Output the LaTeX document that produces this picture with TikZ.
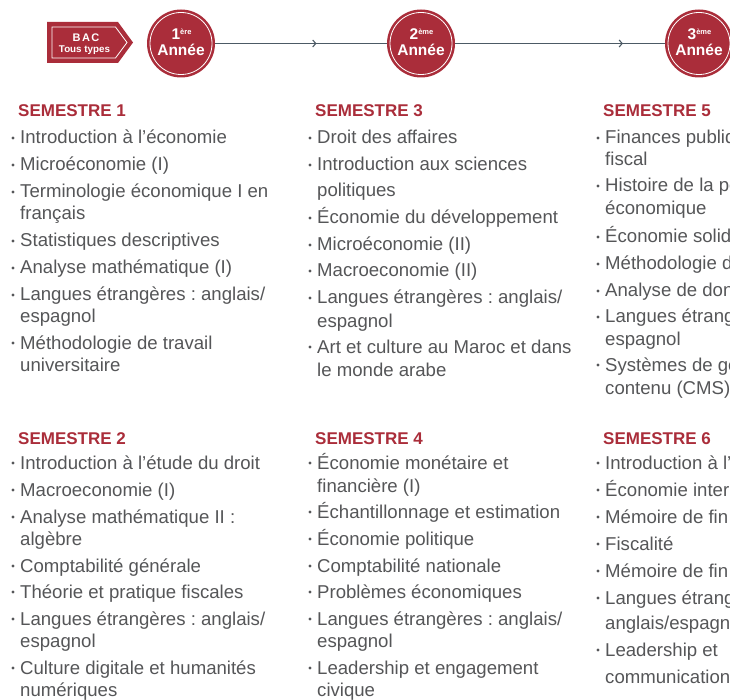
\documentclass[tikz,border=0pt]{standalone}
\usepackage{fontspec}
\setmainfont{Liberation Sans}
\usetikzlibrary{arrows.meta,decorations.markings,calc}
\definecolor{brandred}{HTML}{AA2D3A}
\definecolor{txtgray}{HTML}{555658}
\definecolor{linegray}{HTML}{4C5A65}
\frenchspacing
\tikzset{
  itemtxt/.style={anchor=base west, inner sep=0pt, text=txtgray, font=\fontsize{18.6}{18.6}\selectfont},
  semhead/.style={anchor=base west, inner sep=0pt, text=brandred, font=\bfseries\fontsize{17}{17}\selectfont},
  yearcircle/.style={circle, fill=brandred, minimum size=68pt, inner sep=0pt},
  yeartxt/.style={anchor=base, inner sep=0pt, text=white, font=\bfseries\fontsize{15.5}{15.5}\selectfont},
  timeline/.style={draw=linegray, line width=1.3pt},
  chev/.style={postaction={decorate, decoration={markings, mark=at position #1 with {\arrow[linegray, line width=1.1pt]{Straight Barb[length=3pt,width=7pt]}}}}}
}
\newcommand\itm[4]{\node[itemtxt] (#1) at (#2,#3) {#4};
  \fill[txtgray] ($(#1.base west)+(-7,-6)$) circle (1.6pt);}
\newcommand\cnt[4]{\node[itemtxt] (#1) at (#2,#3) {#4};}
\begin{document}
\begin{tikzpicture}[x=1pt,y=-1pt]
\useasboundingbox (0,0) rectangle (730,700);
\clip (0,0) rectangle (730,700);
\fill[white] (0,0) rectangle (730,700);

% BAC badge
\fill[brandred] (47,22) -- (118,22) -- (133,42.5) -- (118,63) -- (47,63) -- cycle;
\draw[white, line width=0.8pt] (52,27) -- (115.5,27) -- (127,42.5) -- (115.5,58) -- (52,58) -- cycle;
\node[anchor=base, inner sep=0pt, text=white, font=\bfseries\fontsize{11}{11}\selectfont\addfontfeature{LetterSpace=14}] (bac) at (86,41.7) {BAC};
\node[anchor=base, inner sep=0pt, text=white, font=\bfseries\fontsize{9.8}{9.8}\selectfont] (tous) at (84.5,52.7) {Tous types};

% year circles
\node[yearcircle] (y1) at (181,43.5) {};
\node[yearcircle] (y2) at (421,43.5) {};
\node[yearcircle] (y3) at (699,43.5) {};
\foreach \c in {y1,y2,y3} \draw[white, line width=0.8pt] (\c.center) circle (31pt);
\node[yeartxt] (t1a) at (181.5,39.5) {1\raisebox{4.5pt}{\fontsize{7.5}{7.5}\selectfont ère}};
\node[yeartxt] (t1b) at (181,55.5) {Année};
\node[yeartxt] (t2a) at (421.5,39.5) {2\raisebox{4.5pt}{\fontsize{7.5}{7.5}\selectfont ème}};
\node[yeartxt] (t2b) at (421,55.5) {Année};
\node[yeartxt] (t3a) at (699.5,39.5) {3\raisebox{4.5pt}{\fontsize{7.5}{7.5}\selectfont ème}};
\node[yeartxt] (t3b) at (699,55.5) {Année};

% connectors
\draw[timeline, chev=0.59] (y1) -- (y2);
\draw[timeline, chev=0.80] (y2) -- (y3);

% Semester 1
\node[semhead] (s1) at (18,117) {SEMESTRE 1};
\itm{a1}{20}{144}{Introduction à l’économie}
\itm{a2}{20}{171}{Microéconomie (I)}
\itm{a3}{20}{198}{Terminologie économique I en}
\cnt{a3b}{20}{220}{français}
\itm{a4}{20}{247}{Statistiques descriptives}
\itm{a5}{20}{274}{Analyse mathématique (I)}
\itm{a6}{20}{301}{Langues étrangères : anglais/}
\cnt{a6b}{20}{323}{espagnol}
\itm{a7}{20}{349}{Méthodologie de travail}
\cnt{a7b}{20}{371}{universitaire}

% Semester 2
\node[semhead] (s2) at (18,444) {SEMESTRE 2};
\itm{b1}{20}{469}{Introduction à l’étude du droit}
\itm{b2}{20}{496}{Macroeconomie (I)}
\itm{b3}{20}{523}{Analyse mathématique II :}
\cnt{b3b}{20}{545}{algèbre}
\itm{b4}{20}{572}{Comptabilité générale}
\itm{b5}{20}{598}{Théorie et pratique fiscales}
\itm{b6}{20}{625}{Langues étrangères : anglais/}
\cnt{b6b}{20}{647}{espagnol}
\itm{b7}{20}{674}{Culture digitale et humanités}
\cnt{b7b}{20}{696}{numériques}

% Semester 3
\node[semhead] (s3) at (315,117) {SEMESTRE 3};
\itm{c1}{317}{144}{Droit des affaires}
\itm{c2}{317}{171}{Introduction aux sciences}
\cnt{c2b}{317}{197}{politiques}
\itm{c3}{317}{224}{Économie du développement}
\itm{c4}{317}{251}{Microéconomie (II)}
\itm{c5}{317}{277}{Macroeconomie (II)}
\itm{c6}{317}{304}{Langues étrangères : anglais/}
\cnt{c6b}{317}{327}{espagnol}
\itm{c7}{317}{353}{Art et culture au Maroc et dans}
\cnt{c7b}{317}{376}{le monde arabe}

% Semester 4
\node[semhead] (s4) at (315,444) {SEMESTRE 4};
\itm{d1}{317}{469}{Économie monétaire et}
\cnt{d1b}{317}{492}{financière (I)}
\itm{d2}{317}{518}{Échantillonnage et estimation}
\itm{d3}{317}{545}{Économie politique}
\itm{d4}{317}{572}{Comptabilité nationale}
\itm{d5}{317}{598}{Problèmes économiques}
\itm{d6}{317}{625}{Langues étrangères : anglais/}
\cnt{d6b}{317}{647}{espagnol}
\itm{d7}{317}{674}{Leadership et engagement}
\cnt{d7b}{317}{696}{civique}

% Semester 5
\node[semhead] (s5) at (603,117) {SEMESTRE 5};
\itm{e1}{605}{144}{Finances publiques et droit}
\cnt{e1b}{605}{166}{fiscal}
\itm{e2}{605}{192}{Histoire de la pensée}
\cnt{e2b}{605}{215}{économique}
\itm{e3}{605}{243}{Économie solidaire}
\itm{e4}{605}{270}{Méthodologie de recherche}
\itm{e5}{605}{297}{Analyse de données}
\itm{e6}{605}{323}{Langues étrangères : anglais/}
\cnt{e6b}{605}{345}{espagnol}
\itm{e7}{605}{371}{Systèmes de gestion de}
\cnt{e7b}{605}{394}{contenu (CMS)}

% Semester 6
\node[semhead] (s6) at (603,444) {SEMESTRE 6};
\itm{f1}{605}{469}{Introduction à l’économétrie}
\itm{f2}{605}{496}{Économie internationale}
\itm{f3}{605}{523}{Mémoire de fin d’études}
\itm{f4}{605}{550}{Fiscalité}
\itm{f5}{605}{577}{Mémoire de fin d’études}
\itm{f6}{605}{604}{Langues étrangères :}
\cnt{f6b}{605}{629}{anglais/espagnol}
\itm{f7}{605}{656}{Leadership et}
\cnt{f7b}{605}{683}{communication}
\end{tikzpicture}
\end{document}
